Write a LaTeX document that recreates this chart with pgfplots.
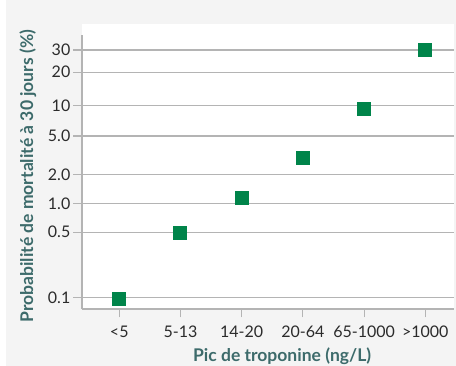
\documentclass[border=0pt]{standalone}
\usepackage{fontspec}
\setmainfont{Lato}
\usepackage{pgfplots}
\pgfplotsset{compat=1.18}
\definecolor{bggray}{HTML}{F4F4F4}
\definecolor{gridgray}{HTML}{B4B4B4}
\definecolor{labteal}{HTML}{3D6B6B}
\definecolor{ticktext}{HTML}{2B2B2B}
\definecolor{mkgreen}{HTML}{00844A}
\begin{document}
\begin{tikzpicture}[x=1pt,y=1pt]
\fill[bggray] (6,0) rectangle (456,366);
\fill[white] (82,57) rectangle (454,342);
\begin{axis}[
  at={(82pt,57pt)}, anchor=south west,
  scale only axis, width=372pt, height=274pt,
  xmin=-0.609, xmax=5.469,
  ymin=0.0778, ymax=38.18,
  y coord trafo/.code={\pgfmathparse{ln(#1/(100-#1))}},
  y coord inv trafo/.code={\pgfmathparse{100/(1+exp(-#1))}},
  ytick={0.1,0.5,1,2,5,10,20,30},
  yticklabels={0.1,0.5,1.0,2.0,5.0,10,20,30},
  xtick={0,1,2,3,4,5},
  xticklabels={<5,5-13,14-20,20-64,65-1000,>1000},
  axis x line*=bottom, axis y line*=left,
  axis line style={gridgray, line width=1.8pt},
  tick align=outside,
  major tick length=8.5pt,
  ytick style={gridgray, line width=1.2pt},
  xtick style={gridgray, line width=1pt},
  ymajorgrids,
  grid style={gridgray, line width=1.2pt},
  ticklabel style={font=\fontsize{16}{16}\selectfont, text=ticktext},
  yticklabel style={inner sep=0pt, anchor=east, xshift=-3pt},
  xticklabel style={inner sep=0pt, anchor=north, yshift=-8pt},
  xlabel={Pic de troponine (ng/L)},
  ylabel={Probabilité de mortalité à 30 jours (\%)},
  label style={font=\fontsize{17.5}{17.5}\selectfont\bfseries, text=labteal},
  xlabel style={at={(axis description cs:0.538,-0.1905)}, anchor=base, inner sep=0pt},
  ylabel style={at={(axis description cs:-0.1317,0.485)}, anchor=base, rotate=0, inner sep=0pt},
  clip=false,
]
\addplot[only marks, mark=square*, mark size=6.5pt,
  mark options={fill=mkgreen, draw=mkgreen, line width=0pt}]
  coordinates {(0,0.1) (1,0.49) (2,1.14) (3,2.97) (4,9.3) (5,30)};
\end{axis}
\pgfresetboundingbox
\path (0,0) rectangle (456,366);
\end{tikzpicture}
\end{document}
